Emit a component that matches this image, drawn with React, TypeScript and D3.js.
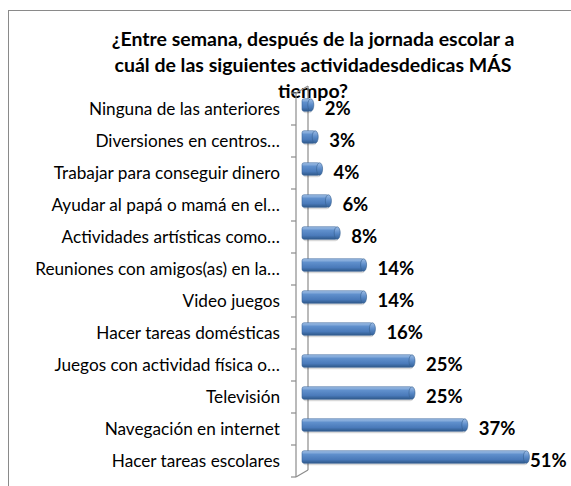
import React, { useEffect, useRef } from 'react';
import * as d3 from 'd3';

const titleLines = [
  '¿Entre semana, después de la jornada escolar a',
  'cuál de las siguientes actividadesdedicas MÁS',
  'tiempo?',
];

const categories = [
  'Ninguna de las anteriores',
  'Diversiones en centros…',
  'Trabajar para conseguir dinero',
  'Ayudar al papá o mamá en el…',
  'Actividades artísticas como…',
  'Reuniones con amigos(as) en la…',
  'Video juegos',
  'Hacer tareas domésticas',
  'Juegos con actividad física o…',
  'Televisión',
  'Navegación en internet',
  'Hacer tareas escolares',
];

const values = [2, 3, 4, 6, 8, 14, 14, 16, 25, 25, 37, 51];

const W = 571;
const H = 486;

function App() {
  const ref = useRef<SVGSVGElement>(null);

  useEffect(() => {
    const svg = d3.select(ref.current);
    svg.selectAll('*').remove();

    const font = 'Lato, Carlito, Calibri, "Open Sans", sans-serif';
    const axisX = 296;
    const depthX = 12;
    const depthY = 7;

    const y = d3.scaleBand<string>().domain(categories).range([93, 477]);
    const x = d3.scaleLinear().domain([0, 60]).range([302, 566]);

    const defs = svg.append('defs');
    const grad = defs.append('linearGradient')
      .attr('id', 'barGrad')
      .attr('x1', 0).attr('y1', 0).attr('x2', 0).attr('y2', 1);
    grad.append('stop').attr('offset', '0%').attr('stop-color', '#a9c6ea');
    grad.append('stop').attr('offset', '30%').attr('stop-color', '#5f8fcc');
    grad.append('stop').attr('offset', '70%').attr('stop-color', '#4a7aba');
    grad.append('stop').attr('offset', '100%').attr('stop-color', '#2e5889');

    const capGrad = defs.append('linearGradient')
      .attr('id', 'capGrad')
      .attr('x1', 0).attr('y1', 0).attr('x2', 0).attr('y2', 1);
    capGrad.append('stop').attr('offset', '0%').attr('stop-color', '#9dbde6');
    capGrad.append('stop').attr('offset', '50%').attr('stop-color', '#5a8ac8');
    capGrad.append('stop').attr('offset', '100%').attr('stop-color', '#34629a');

    // chart frame
    svg.append('rect')
      .attr('x', 8.5).attr('y', 10.5)
      .attr('width', 620).attr('height', 520)
      .attr('fill', 'white')
      .attr('stroke', '#8a8a8a')
      .attr('stroke-width', 1);

    // title
    const title = svg.append('text')
      .attr('text-anchor', 'middle')
      .attr('font-family', font)
      .attr('font-weight', 'bold')
      .attr('font-size', 19.5)
      .attr('fill', '#000');
    titleLines.forEach((t, i) => {
      title.append('tspan').attr('x', 313).attr('y', 46 + i * 26).text(t);
    });

    // 3D wall edges
    const y0 = y.range()[0];
    const y1 = y.range()[1];
    const axis = svg.append('g')
      .attr('stroke', '#8c8c8c')
      .attr('stroke-width', 1.2)
      .attr('fill', 'none');
    axis.append('line')
      .attr('x1', axisX + depthX).attr('x2', axisX + depthX)
      .attr('y1', y0 - depthY).attr('y2', y1 - depthY);
    axis.append('line')
      .attr('x1', axisX).attr('x2', axisX)
      .attr('y1', y0).attr('y2', y1);
    axis.append('line')
      .attr('x1', axisX).attr('x2', axisX + depthX)
      .attr('y1', y1).attr('y2', y1 - depthY);
    axis.append('line')
      .attr('x1', axisX).attr('x2', axisX + depthX)
      .attr('y1', y0).attr('y2', y0 - depthY);
    axis.selectAll('line.tick')
      .data(d3.range(categories.length + 1))
      .enter()
      .append('line')
      .attr('class', 'tick')
      .attr('x1', axisX - 5).attr('x2', axisX)
      .attr('y1', i => y0 + i * y.step())
      .attr('y2', i => y0 + i * y.step());

    // category labels
    svg.append('g')
      .selectAll('text')
      .data(categories)
      .enter()
      .append('text')
      .attr('x', 280)
      .attr('y', d => (y(d) as number) + y.bandwidth() / 2)
      .attr('dy', '0.35em')
      .attr('text-anchor', 'end')
      .attr('font-family', font)
      .attr('font-size', 17.2)
      .attr('fill', '#000')
      .text(d => d);

    // bars
    const barH = 12.5;
    const shiftY = -4;
    const bars = svg.append('g')
      .selectAll('g')
      .data(values)
      .enter()
      .append('g')
      .attr('transform', (d, i) => {
        const cy = (y(categories[i]) as number) + y.bandwidth() / 2 + shiftY;
        return `translate(0,${cy - barH / 2})`;
      });

    bars.append('rect')
      .attr('x', x(0) + 1)
      .attr('y', 2)
      .attr('width', d => x(d) - x(0))
      .attr('height', barH)
      .attr('rx', 3)
      .attr('fill', '#000')
      .attr('opacity', 0.15);

    bars.append('rect')
      .attr('x', x(0))
      .attr('y', 0)
      .attr('width', d => x(d) - x(0))
      .attr('height', barH)
      .attr('rx', 2)
      .attr('fill', 'url(#barGrad)')
      .attr('stroke', '#3b659b')
      .attr('stroke-width', 0.6);

    bars.append('ellipse')
      .attr('cx', d => x(d))
      .attr('cy', barH / 2)
      .attr('rx', 3)
      .attr('ry', barH / 2)
      .attr('fill', 'url(#capGrad)')
      .attr('stroke', '#35608f')
      .attr('stroke-width', 0.6);

    // value labels
    svg.append('g')
      .selectAll('text')
      .data(values)
      .enter()
      .append('text')
      .attr('x', d => Math.min(x(d) + 14, 530))
      .attr('y', (d, i) => (y(categories[i]) as number) + y.bandwidth() / 2)
      .attr('dy', '0.35em')
      .attr('font-family', font)
      .attr('font-weight', 'bold')
      .attr('font-size', 18.5)
      .attr('fill', '#000')
      .text(d => `${d}%`);
  }, []);

  return (
    <svg
      ref={ref}
      width={W}
      height={H}
      style={{ position: 'absolute', left: 0, top: 0, background: 'white' }}
    />
  );
}

export default App;
